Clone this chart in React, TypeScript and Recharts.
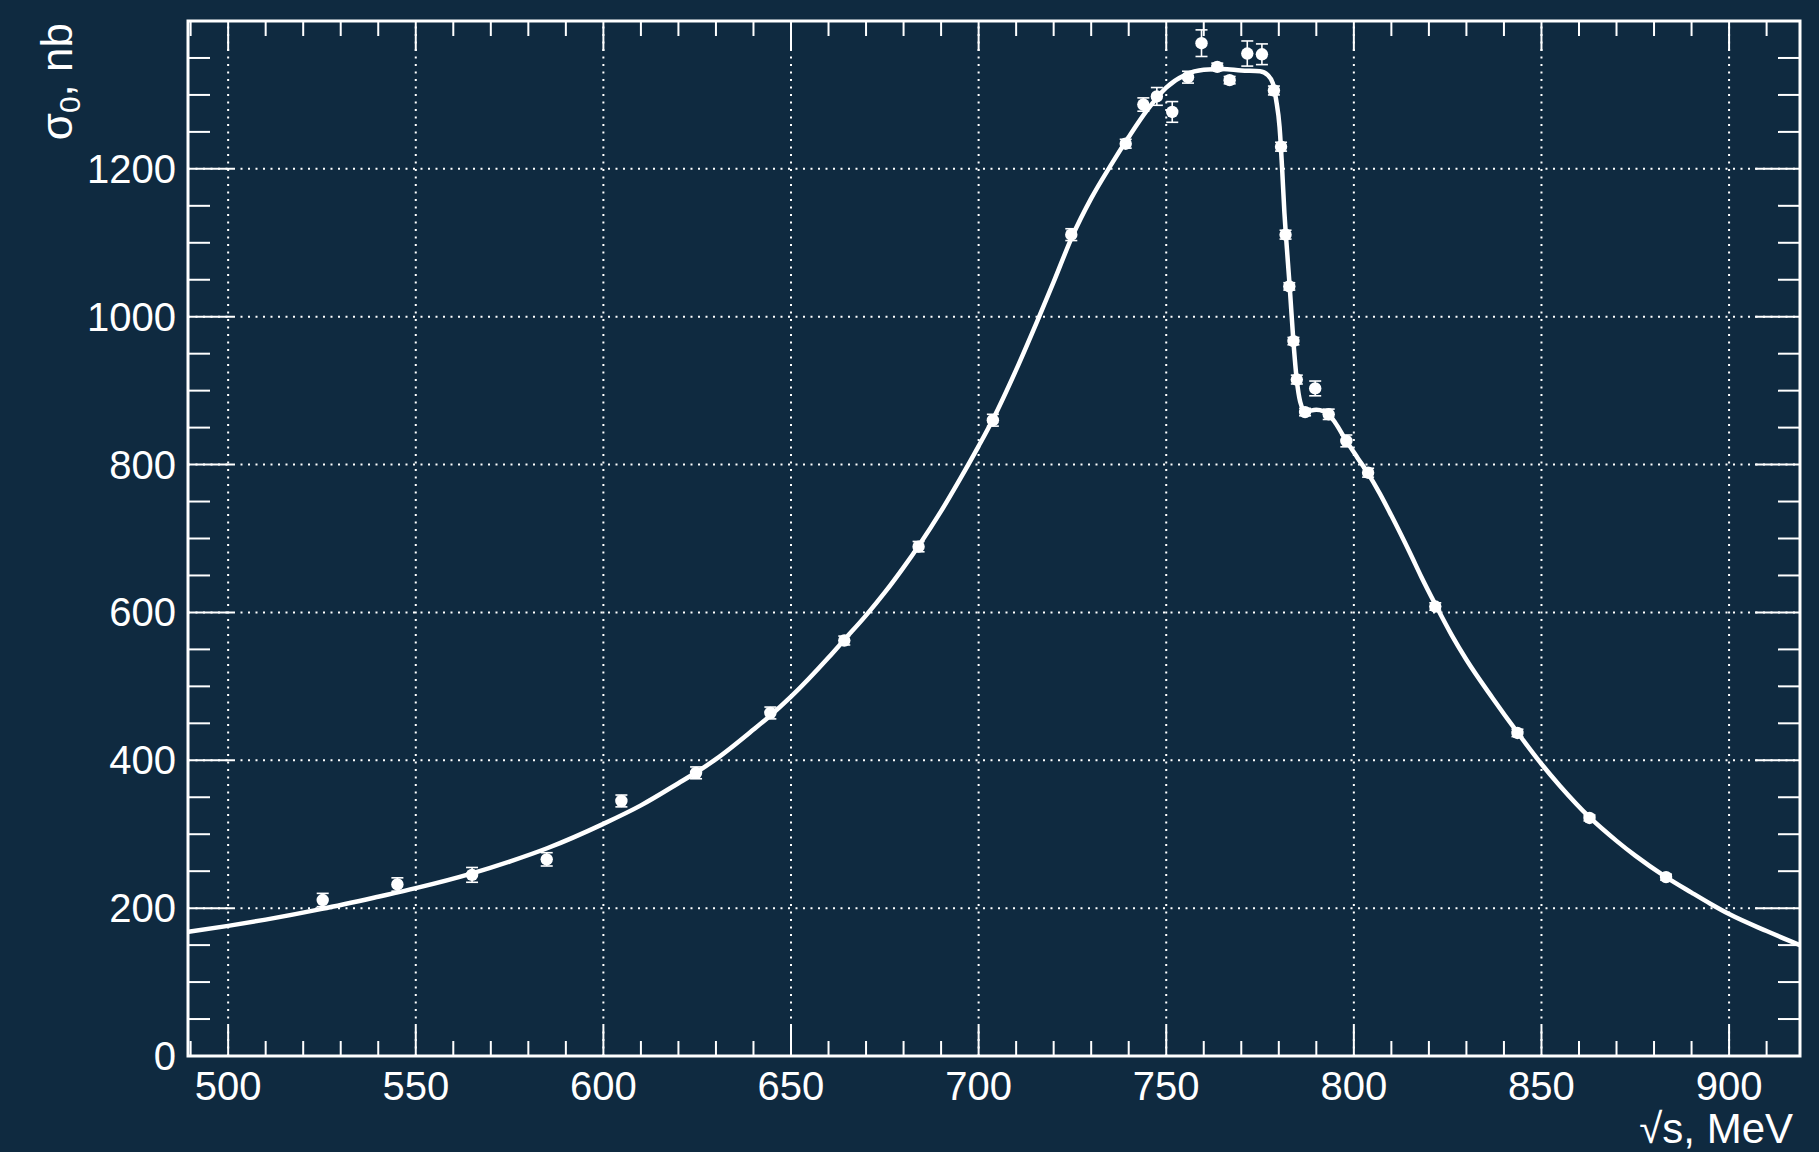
import React from 'react';
import { ComposedChart, Line, Scatter, ErrorBar, XAxis, YAxis, ReferenceLine, ReferenceArea, Label } from 'recharts';

// measured points: sqrt(s) in MeV, sigma_0 in nb, stat. error
const pointX = [525.2, 545.1, 565.0, 584.9, 604.8, 624.7, 644.5, 664.2, 684.0, 703.8, 724.7, 739.2, 743.9, 747.5, 751.6, 755.8, 759.4, 763.6, 766.9, 771.6, 775.5, 778.7, 780.6, 781.8, 782.8, 783.9, 784.8, 787.0, 789.7, 793.3, 798.0, 803.8, 821.7, 843.6, 862.8, 883.2];
const pointY = [211, 232, 245, 266, 345, 383, 464, 562, 689, 860, 1111, 1234, 1287, 1298, 1277, 1324, 1370, 1338, 1320, 1356, 1355, 1306, 1230, 1111, 1041, 967, 915, 871, 903, 868, 832, 789, 608, 437, 322, 242];
const pointErr = [9, 9, 10, 9, 8, 8, 8, 6, 7, 8, 8, 6, 9, 12, 14, 8, 18, 5, 5, 17, 14, 6, 6, 6, 5, 5, 6, 5, 10, 7, 8, 6, 5, 5, 4, 4];

// fit curve
const fitX = [489.5, 500, 510, 525, 540, 550, 565, 575, 585, 600, 610, 620, 625, 630, 640, 644.6, 650, 660, 664.2, 670, 675, 680, 684, 690, 695, 700, 703.8, 710, 715.8, 720, 724.9, 730, 735, 740, 745, 750, 755, 760, 765, 770, 775, 777, 778.4, 779.3, 780.2, 780.9, 781.5, 781.9, 782.9, 783.9, 784.8, 785.7, 787, 790, 792, 793.2, 795, 798, 801, 803.9, 807, 810, 815, 818, 821.7, 826, 830, 837, 843.7, 850, 855, 862.8, 870, 875, 883.2, 890, 895, 900, 910, 918.9];
const fitY = [168, 176, 184.5, 199, 215.5, 227, 247, 263, 281, 314, 339, 369, 384.5, 401.5, 441.5, 461, 486, 539, 563, 596, 627, 661, 690, 737, 780, 825, 861, 928, 996, 1047, 1108, 1160, 1203, 1243, 1280, 1310, 1327, 1334, 1335, 1333, 1332, 1327, 1316, 1293, 1257, 1199, 1140, 1110, 1041, 966, 914, 885, 872, 874, 872, 868.5, 857, 832, 809, 787, 760, 731, 680, 648, 611, 570, 536, 484, 437, 395, 365, 323, 291, 271, 242, 221, 206, 192, 169, 150];

const xMajorTicks = [500, 550, 600, 650, 700, 750, 800, 850, 900];
const yMajorTicks = [0, 200, 400, 600, 800, 1000, 1200];
const xGrid = [500, 550, 600, 650, 700, 750, 800, 850, 900];
const yGrid = [200, 400, 600, 800, 1000, 1200];

const xDomain: [number, number] = [489.3, 918.9];
const yDomain: [number, number] = [0, 1400];

const xAllTicks: number[] = [];
for (let v = 490; v <= 910; v += 10) xAllTicks.push(v);
const yAllTicks: number[] = [];
for (let v = 0; v <= 1350; v += 50) yAllTicks.push(v);

const points = pointX.map((x, i) => ({ x, y: pointY[i], err: pointErr[i] }));
const fit = fitX.map((x, i) => ({ x, y: fitY[i] }));

const W = 1819;
const H = 1152;
const LEFT = 188;
const TOP = 21;
const RIGHT = 1800;
const BOTTOM = 1056;
const bg = '#0f2a40';
const fg = '#ffffff';
const font = '"Liberation Sans", Arial, Helvetica, sans-serif';

const XTick = (props: any) => {
  const { x, payload } = props;
  const v = payload.value;
  const major = xMajorTicks.includes(v);
  const len = major ? 30 : 15;
  return (
    <g>
      <line x1={x} x2={x} y1={BOTTOM} y2={BOTTOM - len} stroke={fg} strokeWidth={2} />
      <line x1={x} x2={x} y1={TOP} y2={TOP + len} stroke={fg} strokeWidth={2} />
      {major && (
        <text x={x} y={BOTTOM + 44} textAnchor="middle" fill={fg} fontSize={40} fontFamily={font}>
          {v}
        </text>
      )}
    </g>
  );
};

const YTick = (props: any) => {
  const { y, payload } = props;
  const v = payload.value;
  const major = yMajorTicks.includes(v);
  const len = major ? 45 : 22;
  return (
    <g>
      <line x1={LEFT} x2={LEFT + len} y1={y} y2={y} stroke={fg} strokeWidth={2} />
      <line x1={RIGHT - len} x2={RIGHT} y1={y} y2={y} stroke={fg} strokeWidth={2} />
      {major && (
        <text x={LEFT - 12} y={y + 14} textAnchor="end" fill={fg} fontSize={40} fontFamily={font}>
          {v}
        </text>
      )}
    </g>
  );
};

const Dot = (props: any) => <circle cx={props.cx} cy={props.cy} r={6.2} fill={fg} />;

export default function App() {
  return (
    <div style={{ position: 'absolute', left: 0, top: 0, width: W, height: H, background: bg }}>
      <ComposedChart width={W} height={H} margin={{ top: TOP, right: W - RIGHT, bottom: 0, left: 0 }}>
        <XAxis
          dataKey="x"
          type="number"
          domain={xDomain}
          allowDataOverflow
          ticks={xAllTicks}
          interval={0}
          tick={<XTick />}
          tickLine={false}
          axisLine={false}
          tickSize={0}
          height={H - BOTTOM}
        >
          <Label
            content={() => (
              <text x={1793} y={1143} textAnchor="end" fill={fg} fontSize={42} fontFamily={font}>
                √s, MeV
              </text>
            )}
          />
        </XAxis>
        <YAxis
          dataKey="y"
          type="number"
          domain={yDomain}
          allowDataOverflow
          ticks={yAllTicks}
          interval={0}
          tick={<YTick />}
          tickLine={false}
          axisLine={false}
          tickSize={0}
          width={LEFT}
        >
          <Label
            content={() => (
              <text
                x={72}
                y={23}
                transform="rotate(-90, 72, 23)"
                textAnchor="end"
                fill={fg}
                fontSize={44}
                fontFamily={font}
              >
                σ<tspan fontSize={30} dy={8}>0</tspan>
                <tspan dy={-8}>, nb</tspan>
              </text>
            )}
          />
        </YAxis>
        {xGrid.map((v) => (
          <ReferenceLine key={'gx' + v} x={v} stroke={fg} strokeWidth={2} strokeDasharray="2 5.5" />
        ))}
        {yGrid.map((v) => (
          <ReferenceLine key={'gy' + v} y={v} stroke={fg} strokeWidth={2} strokeDasharray="2 5.5" />
        ))}
        <ReferenceArea
          x1={xDomain[0]}
          x2={xDomain[1]}
          y1={yDomain[0]}
          y2={yDomain[1]}
          fill="none"
          fillOpacity={0}
          stroke={fg}
          strokeWidth={3}
        />
        <Scatter data={points} dataKey="y" shape={<Dot />} isAnimationActive={false}>
          <ErrorBar dataKey="err" direction="y" width={6} stroke={fg} strokeWidth={1.6} />
        </Scatter>
        <Line
          data={fit}
          dataKey="y"
          type="monotone"
          stroke={fg}
          strokeWidth={4.5}
          dot={false}
          activeDot={false}
          isAnimationActive={false}
        />
      </ComposedChart>
    </div>
  );
}
